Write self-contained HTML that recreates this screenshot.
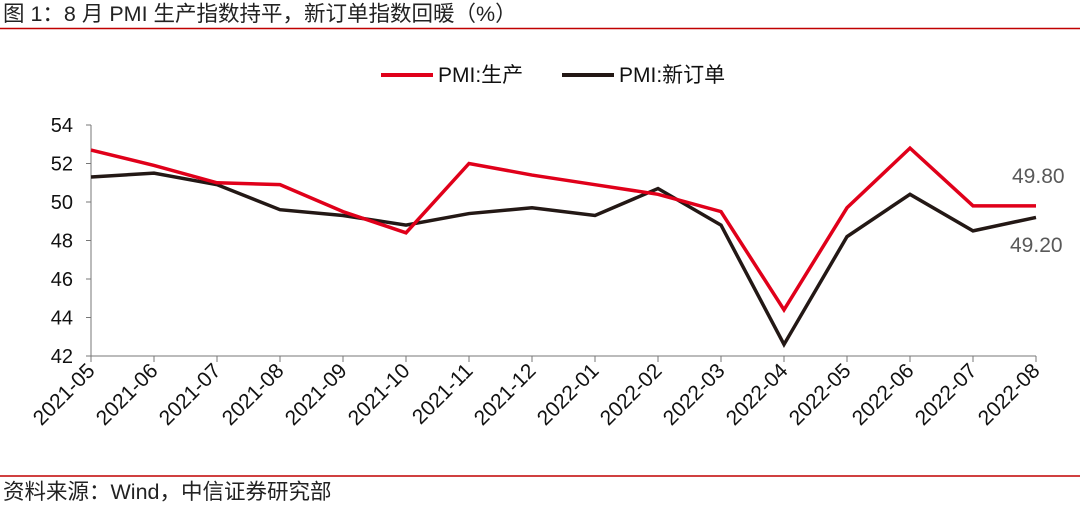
<!DOCTYPE html>
<html><head><meta charset="utf-8"><style>
body{margin:0;background:#fff;width:1080px;height:504px;overflow:hidden;font-family:"Liberation Sans","Noto Sans CJK SC",sans-serif}
</style></head><body>
<svg width="1080" height="504" xmlns="http://www.w3.org/2000/svg" style="font-family:'Liberation Sans','Noto Sans CJK SC',sans-serif">
<text x="3" y="21" font-size="21.5" fill="#222">图 1：8 月 PMI 生产指数持平，新订单指数回暖（%）</text>
<line x1="0" y1="28.5" x2="1080" y2="28.5" stroke="#c00000" stroke-width="1.5"/>
<g>
<line x1="381" y1="75" x2="433" y2="75" stroke="#e0001a" stroke-width="4"/>
<text x="438" y="82" font-size="21" fill="#111">PMI:生产</text>
<line x1="562" y1="75" x2="614" y2="75" stroke="#231815" stroke-width="4"/>
<text x="619" y="82" font-size="21" fill="#111">PMI:新订单</text>
</g>
<g id="axes"></g>
<g id="series"></g>
<text x="1012" y="183" font-size="21" fill="#595959">49.80</text>
<text x="1010" y="252" font-size="21" fill="#595959">49.20</text>
<line x1="0" y1="476" x2="1080" y2="476" stroke="#c00000" stroke-width="1.5"/>
<text x="3" y="499" font-size="21.5" fill="#222">资料来源：Wind，中信证券研究部</text>
</svg>
<script>
const categories=["2021-05","2021-06","2021-07","2021-08","2021-09","2021-10","2021-11","2021-12","2022-01","2022-02","2022-03","2022-04","2022-05","2022-06","2022-07","2022-08"];
const production=[52.7,51.9,51.0,50.9,49.5,48.4,52.0,51.4,50.9,50.4,49.5,44.4,49.7,52.8,49.8,49.8];
const newOrders=[51.3,51.5,50.9,49.6,49.3,48.8,49.4,49.7,49.3,50.7,48.8,42.6,48.2,50.4,48.5,49.2];
const yTicks=[42,44,46,48,50,52,54];
const NS="http://www.w3.org/2000/svg";
const X0=91,X1=1036,Y0=356,Y1=125,YMIN=42,YMAX=54;
const xs=i=>X0+(X1-X0)*i/(categories.length-1);
const ys=v=>Y0-(v-YMIN)/(YMAX-YMIN)*(Y0-Y1);
function mk(t,a,p){const e=document.createElementNS(NS,t);for(const k in a)e.setAttribute(k,a[k]);p.appendChild(e);return e;}
const ax=document.getElementById('axes');
const yl=mk('line',{x1:X0,y1:Y1,x2:X0,y2:Y0,stroke:'#777','stroke-width':1},ax);


const xl=mk('line',{x1:X0,y1:Y0,x2:X1,y2:Y0,stroke:'#777','stroke-width':1},ax);


yTicks.forEach(v=>{
 const y=ys(v);
 const tk=mk('line',{x1:X0-5,y1:y,x2:X0,y2:y,stroke:'#777'},ax);
 
 
 const t=mk('text',{x:73,y:y+7,'font-size':20,'text-anchor':'end',fill:'#111'},ax);
 t.textContent=v;
 
 
});
categories.forEach((c,i)=>{
 const x=xs(i);
 const tk=mk('line',{x1:x,y1:Y0,x2:x,y2:Y0+6,stroke:'#777'},ax);
 
 
 const t=mk('text',{x:x+5,y:Y0+16,'font-size':21,'text-anchor':'end',fill:'#111',transform:`rotate(-45 ${x+5} ${Y0+16})`},ax);
 t.textContent=c;
 
 
});
const sg=document.getElementById('series');
function line(vals,color,name){
 const p=mk('polyline',{points:vals.map((v,i)=>xs(i)+','+ys(v)).join(' '),fill:'none',stroke:color,'stroke-width':3.5,'stroke-linejoin':'miter'},sg);
 
 
}
line(newOrders,'#231815','line-new-orders');
line(production,'#e0001a','line-production');
</script>
</body></html>
